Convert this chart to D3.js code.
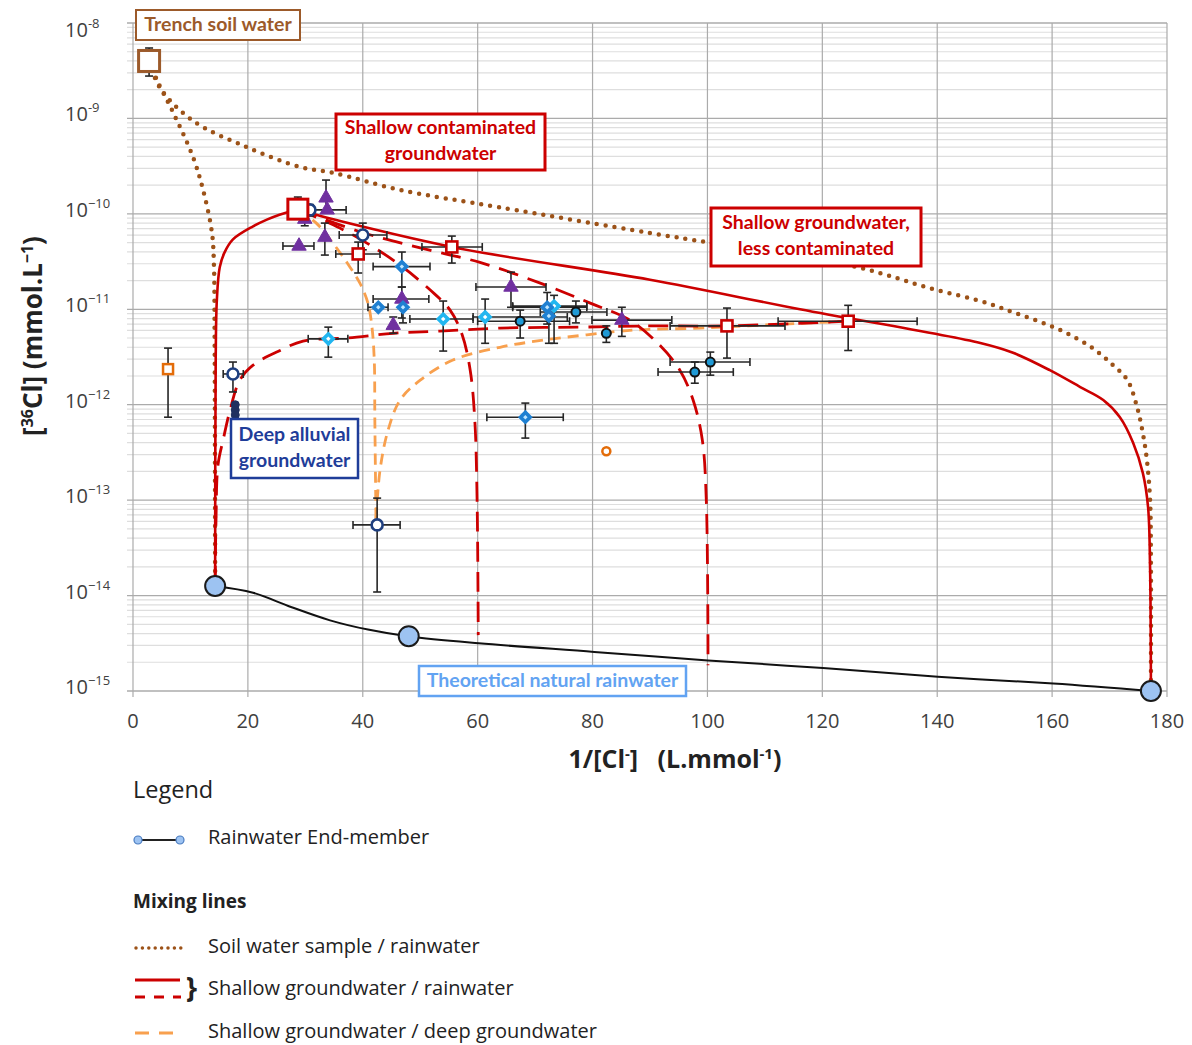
<!DOCTYPE html>
<html>
<head>
<meta charset="utf-8">
<script src="https://cdn.jsdelivr.net/npm/d3@7"></script>
<style>
  body { margin: 0; background: #fff; }
  text { font-family: "Open Sans", sans-serif; }
</style>
</head>
<body>
<div id="chart"></div>
<script>
// axis ticks
const xTicks = [0, 20, 40, 60, 80, 100, 120, 140, 160, 180];
const yDecades = [-15, -14, -13, -12, -11, -10, -9, -8];
const yTickSup = ["\u221215", "\u221214", "\u221213", "\u221212", "\u221211", "\u221210", "-9", "-8"];

// rainwater end-member line (x = 1/[Cl], y = [36Cl])
const rainLine = [[14.3, 1.26e-14], [20.9, 1.07e-14], [27.5, 7.6e-15], [34.3, 5.5e-15], [40.9, 4.4e-15],
  [48.1, 3.72e-15], [60.2, 3.16e-15], [80.3, 2.57e-15], [100.1, 2.09e-15], [120.1, 1.74e-15],
  [140.1, 1.41e-15], [160.2, 1.2e-15], [177.2, 1.0e-15]];
const rainEnd = [[14.3, 1.26e-14], [48.0, 3.75e-15], [177.2, 1.0e-15]];

// mixing lines
const soilRainA = [[2.8, 4.0e-9], [4.2, 2.5e-9], [7.0, 1.15e-9], [10.4, 4.0e-10], [12.2, 1.78e-10],
  [13.75, 6.3e-11], [14.1, 2.75e-11], [14.2, 6.3e-12], [14.25, 1e-12], [14.3, 1.26e-14]];
const soilRainB = [[2.8, 4.0e-9], [4.7, 2.09e-9], [10.4, 9.5e-10], [19.8, 5.0e-10], [29.1, 3.1e-10],
  [34.8, 2.7e-10], [46.5, 1.78e-10], [63.9, 1.17e-10], [90.0, 6.3e-11], [100.3, 5.0e-11],
  [126.2, 2.75e-11], [138.2, 1.7e-11], [148.7, 1.16e-11], [153.2, 9.3e-12], [157.9, 7.4e-12],
  [162.6, 5.6e-12], [167.1, 3.9e-12], [170.6, 2.6e-12], [173.1, 1.82e-12], [174.8, 9.4e-13],
  [175.8, 5.0e-13], [176.5, 2.63e-13], [177.05, 1.0e-13], [177.2, 2.0e-14], [177.2, 1.0e-15]];
const shallowRainA = [[28.7, 1.12e-10], [25.5, 9.8e-11], [23.3, 8.7e-11], [20.9, 7.4e-11], [17.4, 5.4e-11],
  [15.9, 3.9e-11], [15.1, 2.75e-11], [14.6, 1.26e-11], [14.4, 3.2e-12], [14.3, 1.26e-14]];
const shallowRainB = [[28.7, 1.12e-10], [30.8, 1.02e-10], [55.5, 4.5e-11], [90.0, 2.04e-11], [116.1, 1.0e-11],
  [147.5, 4.43e-12], [153.2, 3.5e-12], [159.6, 2.3e-12], [164.9, 1.53e-12], [168.9, 1.12e-12],
  [171.8, 7.4e-13], [174.1, 4.0e-13], [175.8, 1.92e-13], [176.7, 8.5e-14], [177.05, 2.0e-14], [177.2, 1.0e-15]];
const shallowRain60 = [[28.7, 1.12e-10], [36.0, 7.1e-11], [41.3, 4.7e-11], [46.5, 2.9e-11], [51.7, 1.6e-11],
  [55.2, 9.8e-12], [57.3, 5.4e-12], [58.7, 2.3e-12], [59.5, 6.9e-13], [59.9, 1.0e-13], [60.1, 3.85e-15]];
const shallowRain100 = [[28.7, 1.12e-10], [39.5, 6.5e-11], [50.0, 4.4e-11], [60.4, 3.1e-11], [70.9, 1.88e-11],
  [79.6, 1.16e-11], [86.5, 7.7e-12], [91.7, 4.2e-12], [95.2, 2.3e-12], [97.5, 1.12e-12], [99.1, 4.3e-13],
  [99.8, 1.0e-13], [100.1, 1.86e-15]];
const lessRain = [[124.5, 7.5e-12], [103.4, 6.7e-12], [90.0, 6.7e-12], [77.8, 6.5e-12], [63.9, 6.35e-12],
  [53.4, 5.9e-12], [45.3, 5.6e-12], [37.3, 5.0e-12], [29.6, 4.65e-12], [25.6, 3.7e-12], [20.9, 2.6e-12],
  [18.6, 1.81e-12], [16.9, 8.8e-13], [15.7, 4.3e-13], [14.8, 2.35e-13], [14.45, 6.2e-14], [14.3, 1.26e-14]];
const shallowDeep = [[28.7, 1.12e-10], [32.0, 7.9e-11], [34.8, 4.94e-11], [37.3, 3.05e-11], [39.5, 1.88e-11],
  [40.9, 1.16e-11], [41.6, 6.5e-12], [42.0, 2.95e-12], [42.1, 6.9e-13], [42.3, 6.2e-14]];
const lessDeep = [[124.5, 7.5e-12], [113.2, 7.0e-12], [98.7, 6.35e-12], [87.0, 6.05e-12], [79.0, 5.4e-12],
  [71.4, 4.75e-12], [63.9, 4.0e-12], [55.7, 2.94e-12], [50.0, 1.81e-12], [46.5, 1.12e-12], [44.4, 5.4e-13],
  [43.0, 2.06e-13], [42.3, 6.2e-14]];

// samples
const trench = [{x: 2.8, y: 4.0e-9, ylo: 2.78e-9, yhi: 5.47e-9}];
const shallowEnd = [{x: 28.7, y: 1.12e-10, yhi: 1.5e-10}];
const navyCircles = [
  {x: 30.8, y: 1.10e-10, ylo: 9.5e-11, yhi: 1.25e-10},
  {x: 40.0, y: 6.0e-11, xlo: 35.9, xhi: 44.2, ylo: 4.2e-11, yhi: 8.0e-11},
  {x: 17.4, y: 2.1e-12, xlo: 15.7, xhi: 19.2, ylo: 1.36e-12, yhi: 2.8e-12},
  {x: 42.5, y: 5.5e-14, xlo: 38.3, xhi: 46.5, ylo: 1.09e-14, yhi: 1.05e-13}];
const deepDots = [{x: 17.8, y: 1.0e-12}, {x: 17.8, y: 8.8e-13}, {x: 17.8, y: 7.8e-13}];
const triangles = [
  {x: 33.6, y: 1.47e-10, ylo: 1.1e-10, yhi: 2.26e-10},
  {x: 33.8, y: 1.1e-10, xlo: 31.3, xhi: 37.1},
  {x: 29.9, y: 8.8e-11, ylo: 7.5e-11, yhi: 1.0e-10},
  {x: 28.9, y: 4.6e-11, xlo: 26.1, xhi: 31.5},
  {x: 33.4, y: 5.7e-11, ylo: 3.7e-11, yhi: 8.0e-11},
  {x: 46.8, y: 1.28e-11, xlo: 41.8, xhi: 51.5, ylo: 8.1e-12, yhi: 1.71e-11},
  {x: 45.3, y: 6.8e-12, ylo: 5.6e-12, yhi: 8.3e-12},
  {x: 65.8, y: 1.71e-11, xlo: 59.7, xhi: 71.9, ylo: 1.05e-11, yhi: 2.45e-11},
  {x: 85.1, y: 7.7e-12, xlo: 79.9, xhi: 93.8, ylo: 5.2e-12, yhi: 1.05e-11}];
const redSquares = [
  {x: 39.2, y: 3.8e-11, xlo: 35.3, xhi: 43.0, ylo: 2.4e-11, yhi: 5.06e-11},
  {x: 55.5, y: 4.5e-11, xlo: 50.3, xhi: 60.8, ylo: 3.05e-11, yhi: 5.85e-11},
  {x: 103.4, y: 6.7e-12, xlo: 93.5, xhi: 113.5, ylo: 3.08e-12, yhi: 1.03e-11},
  {x: 124.5, y: 7.5e-12, xlo: 112.3, xhi: 136.5, ylo: 3.7e-12, yhi: 1.1e-11}];
const cyanDiamonds = [
  {x: 34.0, y: 4.9e-12, xlo: 30.5, xhi: 37.4, ylo: 3.15e-12, yhi: 6.5e-12},
  {x: 54.0, y: 7.9e-12, xlo: 48.2, xhi: 59.2, ylo: 3.65e-12, yhi: 1.22e-11},
  {x: 61.3, y: 8.3e-12, xlo: 59.2, xhi: 75.6, ylo: 4.4e-12, yhi: 1.28e-11},
  {x: 73.3, y: 1.08e-11, xlo: 66.1, xhi: 79.0, ylo: 4.4e-12, yhi: 1.4e-11}];
const blueDiamonds = [
  {x: 46.8, y: 2.8e-11, xlo: 41.8, xhi: 51.7, ylo: 1.71e-11, yhi: 3.98e-11},
  {x: 42.7, y: 1.05e-11, xlo: 40.9, xhi: 44.4},
  {x: 47.0, y: 1.05e-11, ylo: 7.2e-12, yhi: 1.3e-11},
  {x: 72.1, y: 1.05e-11, xlo: 66.1, xhi: 79.0, ylo: 7e-12, yhi: 1.5e-11},
  {x: 72.4, y: 8.5e-12, ylo: 4.4e-12, yhi: 1.1e-11},
  {x: 68.3, y: 7.4e-13, xlo: 61.6, xhi: 74.9, ylo: 4.47e-13, yhi: 1.04e-12}];
const darkCircles = [
  {x: 67.4, y: 7.5e-12, xlo: 60.0, xhi: 76.0, ylo: 5.0e-12, yhi: 9.8e-12},
  {x: 77.1, y: 9.35e-12, xlo: 70.9, xhi: 82.5, ylo: 7.2e-12, yhi: 1.22e-11},
  {x: 82.4, y: 5.6e-12, ylo: 4.5e-12, yhi: 6.7e-12},
  {x: 97.8, y: 2.2e-12, xlo: 91.4, xhi: 104.5, ylo: 1.68e-12, yhi: 2.8e-12},
  {x: 100.5, y: 2.8e-12, xlo: 93.5, xhi: 107.4, ylo: 2.04e-12, yhi: 3.56e-12}];
const orangeSquares = [{x: 6.1, y: 2.36e-12, ylo: 7.4e-13, yhi: 3.92e-12}];
const orangeCircles = [{x: 82.4, y: 3.26e-13}];

const width = 1192, height = 1045;
const svg = d3.select("#chart").append("svg")
    .attr("width", width)
    .attr("height", height);

const x = d3.scaleLinear().domain([0, 180]).range([133, 1167]);
const y = d3.scaleLog().domain([1e-15, 1e-8]).range([691, 23]);

// grid
const minor = [];
yDecades.slice(0, -1).forEach(d => { for (let m = 2; m <= 9; m++) minor.push(m * Math.pow(10, d)); });
svg.append("g").selectAll("line").data(minor).join("line")
    .attr("x1", 127).attr("x2", x(180))
    .attr("y1", d => y(d)).attr("y2", d => y(d))
    .attr("stroke", "#dedede").attr("stroke-width", 1.2);
svg.append("g").selectAll("line").data(yDecades).join("line")
    .attr("x1", 127).attr("x2", x(180))
    .attr("y1", d => y(Math.pow(10, d))).attr("y2", d => y(Math.pow(10, d)))
    .attr("stroke", "#ababab").attr("stroke-width", 1.3);
svg.append("g").selectAll("line").data(xTicks).join("line")
    .attr("x1", d => x(d)).attr("x2", d => x(d))
    .attr("y1", y(1e-8)).attr("y2", y(1e-15) + 6)
    .attr("stroke", "#ababab").attr("stroke-width", 1.2);

// tick labels
svg.append("g").selectAll("text").data(xTicks).join("text")
    .attr("x", d => x(d)).attr("y", 728)
    .attr("text-anchor", "middle")
    .style("font-size", "20px").style("fill", "#404040")
    .text(d => d);
const yl = svg.append("g").selectAll("text").data(yDecades).join("text")
    .attr("x", 65)
    .attr("y", d => Math.max(y(Math.pow(10, d)) + 3, 37))
    .style("font-size", "20px").style("fill", "#404040");
yl.append("tspan").text("10");
yl.append("tspan").attr("dy", -9).style("font-size", "13px").text((d, i) => yTickSup[i]);

// axis titles
const xt = svg.append("text").attr("x", 675).attr("y", 768).attr("text-anchor", "middle")
    .style("font-size", "25px").style("font-weight", "bold").style("fill", "#222");
xt.append("tspan").text("1/[Cl");
xt.append("tspan").attr("dy", -9).style("font-size", "15px").text("-");
xt.append("tspan").attr("dy", 9).text("]\u00a0\u00a0\u00a0(L.mmol");
xt.append("tspan").attr("dy", -9).style("font-size", "15px").text("-1");
xt.append("tspan").attr("dy", 9).text(")");

const ytl = svg.append("text").attr("transform", "translate(42,336) rotate(-90)").attr("text-anchor", "middle")
    .style("font-size", "26px").style("font-weight", "bold").style("fill", "#222");
ytl.append("tspan").text("[");
ytl.append("tspan").attr("dy", -9).style("font-size", "16px").text("36");
ytl.append("tspan").attr("dy", 9).text("Cl] (mmol.L");
ytl.append("tspan").attr("dy", -9).style("font-size", "16px").text("\u22121");
ytl.append("tspan").attr("dy", 9).text(")");

// lines
const line = d3.line().x(d => x(d[0])).y(d => y(d[1])).curve(d3.curveCatmullRom.alpha(0.5));
const curves = [
  {data: rainLine, color: "#111", w: 2, dash: null},
  {data: soilRainA, color: "#9c5218", w: 4.5, dash: "0 9", cap: "round"},
  {data: soilRainB, color: "#9c5218", w: 4.5, dash: "0 9", cap: "round"},
  {data: shallowDeep, color: "#f8a04e", w: 2.8, dash: "11 7"},
  {data: lessDeep, color: "#f8a04e", w: 2.8, dash: "11 7"},
  {data: shallowRainA, color: "#cc0000", w: 2.6, dash: null},
  {data: shallowRainB, color: "#cc0000", w: 2.6, dash: null},
  {data: shallowRain60, color: "#cc0000", w: 2.8, dash: "20 10"},
  {data: shallowRain100, color: "#cc0000", w: 2.8, dash: "20 10"},
  {data: lessRain, color: "#cc0000", w: 2.8, dash: "20 10"}
];
svg.append("g").selectAll("path").data(curves).join("path")
    .attr("d", d => line(d.data))
    .attr("fill", "none")
    .attr("stroke", d => d.color)
    .attr("stroke-width", d => d.w)
    .attr("stroke-dasharray", d => d.dash)
    .attr("stroke-linecap", d => d.cap || "butt");

// error bars
const allPoints = [].concat(trench, shallowEnd, navyCircles, triangles, redSquares, cyanDiamonds,
    blueDiamonds, darkCircles, orangeSquares);
const eb = svg.append("g").attr("stroke", "#262626").attr("stroke-width", 1.6);
const xs = allPoints.filter(d => d.xlo != null);
const ys = allPoints.filter(d => d.ylo != null || d.yhi != null);
eb.selectAll(".xbar").data(xs).join("line").attr("class", "xbar")
    .attr("x1", d => x(d.xlo)).attr("x2", d => x(d.xhi))
    .attr("y1", d => y(d.y)).attr("y2", d => y(d.y));
eb.selectAll(".xcapl").data(xs).join("line").attr("class", "xcapl")
    .attr("x1", d => x(d.xlo)).attr("x2", d => x(d.xlo))
    .attr("y1", d => y(d.y) - 4).attr("y2", d => y(d.y) + 4);
eb.selectAll(".xcapr").data(xs).join("line").attr("class", "xcapr")
    .attr("x1", d => x(d.xhi)).attr("x2", d => x(d.xhi))
    .attr("y1", d => y(d.y) - 4).attr("y2", d => y(d.y) + 4);
eb.selectAll(".ybar").data(ys).join("line").attr("class", "ybar")
    .attr("x1", d => x(d.x)).attr("x2", d => x(d.x))
    .attr("y1", d => y(d.ylo != null ? d.ylo : d.y)).attr("y2", d => y(d.yhi != null ? d.yhi : d.y));
eb.selectAll(".ycaplo").data(ys.filter(d => d.ylo != null)).join("line").attr("class", "ycaplo")
    .attr("x1", d => x(d.x) - 4).attr("x2", d => x(d.x) + 4)
    .attr("y1", d => y(d.ylo)).attr("y2", d => y(d.ylo));
eb.selectAll(".ycaphi").data(ys.filter(d => d.yhi != null)).join("line").attr("class", "ycaphi")
    .attr("x1", d => x(d.x) - 4).attr("x2", d => x(d.x) + 4)
    .attr("y1", d => y(d.yhi)).attr("y2", d => y(d.yhi));

// markers
function squares(data, size, color, sw) {
  svg.append("g").selectAll("rect").data(data).join("rect")
      .attr("x", d => x(d.x) - size / 2).attr("y", d => y(d.y) - size / 2)
      .attr("width", size).attr("height", size)
      .attr("fill", "#fff").attr("stroke", color).attr("stroke-width", sw);
}
function circles(data, r, fill, color, sw) {
  svg.append("g").selectAll("circle").data(data).join("circle")
      .attr("cx", d => x(d.x)).attr("cy", d => y(d.y)).attr("r", r)
      .attr("fill", fill).attr("stroke", color).attr("stroke-width", sw);
}
function symbols(data, type, size, fill, color, sw, rot) {
  svg.append("g").selectAll("path").data(data).join("path")
      .attr("transform", d => `translate(${x(d.x)},${y(d.y)}) rotate(${rot || 0})`)
      .attr("d", d3.symbol().type(type).size(size))
      .attr("fill", fill).attr("stroke", color).attr("stroke-width", sw);
}

symbols(triangles, d3.symbolTriangle, 90, "#7030a0", "#7030a0", 1);
squares(redSquares, 11, "#c80000", 2.6);
symbols(cyanDiamonds, d3.symbolSquare, 80, "#22b6f0", "#22b6f0", 1.5, 45);
symbols(cyanDiamonds, d3.symbolSquare, 10, "#fff", "none", 0, 45);
symbols(blueDiamonds, d3.symbolSquare, 80, "#1f80d2", "#1f80d2", 1.5, 45);
symbols(blueDiamonds, d3.symbolSquare, 10, "#bfe6ff", "none", 0, 45);
circles(darkCircles, 4.5, "#1f9ad6", "#111", 2);
circles(navyCircles, 5.5, "#fff", "#1f3f7f", 2.6);
circles(deepDots, 4, "#1f3060", "#1f3060", 1);
squares(orangeSquares, 10, "#e36c09", 2.5);
circles(orangeCircles, 4, "#fff", "#e36c09", 2.5);
squares(trench, 21, "#9c5a2a", 3);
squares(shallowEnd, 20, "#cc0000", 3);
circles(rainEnd.map(d => ({x: d[0], y: d[1]})), 10, "#9dc3f2", "#1a1a1a", 2);

// annotation boxes
const boxes = [
  {x: 136, y: 10, w: 164, h: 30, color: "#9c5a2a", sw: 2, lines: ["Trench soil water"], first: 31},
  {x: 336, y: 114, w: 209, h: 56, color: "#cc0000", sw: 3, lines: ["Shallow contaminated", "groundwater"], first: 134},
  {x: 711, y: 208, w: 210, h: 58, color: "#cc0000", sw: 3, lines: ["Shallow groundwater,", "less contaminated"], first: 229},
  {x: 231, y: 419, w: 127, h: 59, color: "#1f3d99", sw: 2.5, lines: ["Deep alluvial", "groundwater"], first: 441},
  {x: 419, y: 666, w: 267, h: 30, color: "#62a3f2", sw: 2.5, lines: ["Theoretical natural rainwater"], first: 687}
];
const bg = svg.append("g").selectAll("g").data(boxes).join("g");
bg.append("rect")
    .attr("x", d => d.x).attr("y", d => d.y).attr("width", d => d.w).attr("height", d => d.h)
    .attr("fill", "#fff").attr("stroke", d => d.color).attr("stroke-width", d => d.sw);
bg.each(function (d) {
  const t = d3.select(this).append("text")
      .attr("text-anchor", "middle")
      .style("font-family", "Lato, sans-serif").style("font-weight", "bold").style("font-size", "19.5px")
      .style("fill", d.color);
  d.lines.forEach((l, i) => t.append("tspan").attr("x", d.x + d.w / 2).attr("y", d.first + i * 26).text(l));
});

// legend
const lg = svg.append("g");
lg.append("text").attr("x", 133).attr("y", 798).style("font-size", "23.5px").style("fill", "#222").text("Legend");
lg.append("line").attr("x1", 138).attr("x2", 180).attr("y1", 840).attr("y2", 840)
    .attr("stroke", "#222").attr("stroke-width", 2);
lg.selectAll("circle").data([138, 180]).join("circle")
    .attr("cx", d => d).attr("cy", 840).attr("r", 4)
    .attr("fill", "#9dc3f2").attr("stroke", "#4a7cc0").attr("stroke-width", 1.2);
lg.append("text").attr("x", 208).attr("y", 844).style("font-size", "20px").style("fill", "#222").text("Rainwater End-member");
lg.append("text").attr("x", 133).attr("y", 908).style("font-size", "19px").style("font-weight", "bold").style("fill", "#222").text("Mixing lines");

lg.append("line").attr("x1", 136).attr("x2", 181).attr("y1", 948).attr("y2", 948)
    .attr("stroke", "#9c5218").attr("stroke-width", 3.5).attr("stroke-dasharray", "0 6.4").attr("stroke-linecap", "round");
lg.append("text").attr("x", 208).attr("y", 953).style("font-size", "20px").style("fill", "#222").text("Soil water sample / rainwater");

lg.append("line").attr("x1", 135).attr("x2", 180).attr("y1", 980).attr("y2", 980)
    .attr("stroke", "#cc0000").attr("stroke-width", 3);
lg.append("line").attr("x1", 135).attr("x2", 181).attr("y1", 997).attr("y2", 997)
    .attr("stroke", "#cc0000").attr("stroke-width", 3).attr("stroke-dasharray", "10 9");
lg.append("text").attr("x", 186).attr("y", 998).style("font-size", "28px").style("font-weight", "bold").style("fill", "#222").text("}");
lg.append("text").attr("x", 208).attr("y", 995).style("font-size", "20px").style("fill", "#222").text("Shallow groundwater / rainwater");

lg.append("line").attr("x1", 135).attr("x2", 181).attr("y1", 1033).attr("y2", 1033)
    .attr("stroke", "#f8a04e").attr("stroke-width", 3).attr("stroke-dasharray", "14 10");
lg.append("text").attr("x", 208).attr("y", 1038).style("font-size", "20px").style("fill", "#222").text("Shallow groundwater / deep groundwater");
</script>
</body>
</html>
